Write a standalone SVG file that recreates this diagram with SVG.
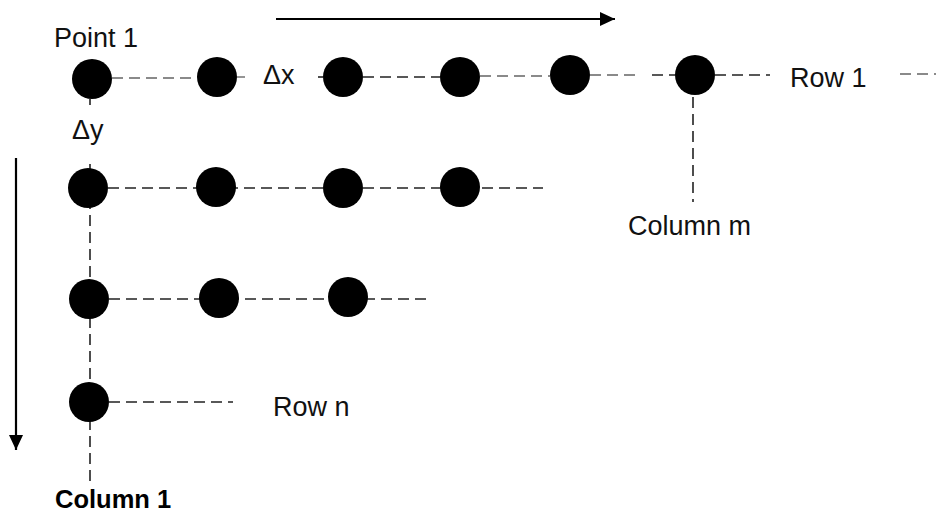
<svg xmlns="http://www.w3.org/2000/svg" width="936" height="512" viewBox="0 0 936 512">
<style>
  .dash { stroke: #222; stroke-width: 1.6; stroke-dasharray: 11 6; fill: none; }
  .gray { stroke: #8a8a8a; stroke-width: 1.8; stroke-dasharray: 11 6; fill: none; }
  .dot { fill: #000; }
  .lbl { font-family: "Liberation Sans", Arial, sans-serif; font-size: 27px; fill: #111; }
  .bold { font-family: "Liberation Sans", Arial, sans-serif; font-size: 25.5px; font-weight: bold; fill: #000; }
  .arrow { stroke: #000; stroke-width: 2.2; fill: none; }
</style>
<defs>
  <marker id="ah" markerWidth="8" markerHeight="8" refX="7" refY="4" orient="auto" markerUnits="userSpaceOnUse" viewBox="0 0 8 8">
    <path d="M0,0 L8,4 L0,8 Z" fill="#000"/>
  </marker>
  <marker id="ahBig" markerWidth="15" markerHeight="14" refX="15" refY="7" orient="auto" markerUnits="userSpaceOnUse">
    <path d="M0,0 L15,7 L0,14 Z" fill="#000"/>
  </marker>
</defs>

<g id="connectors">
  <!-- direction arrows -->
  <line class="arrow" x1="276" y1="19" x2="615" y2="19" marker-end="url(#ahBig)"/>
  <line class="arrow" x1="16" y1="158" x2="16" y2="450" marker-end="url(#ahBig)"/>

  <!-- Row 1 -->
  <line class="gray" x1="112" y1="78" x2="197" y2="78"/>
  <line class="gray" x1="237" y1="77" x2="245" y2="77"/>
  <line class="dash" x1="318" y1="77" x2="323" y2="77"/>
  <line class="dash" x1="363" y1="77" x2="440" y2="77"/>
  <line class="gray" x1="480" y1="76" x2="550" y2="76"/>
  <line class="gray" x1="590" y1="75" x2="640" y2="75"/>
  <line class="dash" x1="652" y1="75" x2="675" y2="75"/>
  <line class="dash" x1="715" y1="75" x2="770" y2="75"/>
  <line class="gray" x1="900" y1="74" x2="936" y2="74"/>

  <!-- Row 2 -->
  <line class="dash" x1="108" y1="188" x2="543" y2="188"/>
  <!-- Row 3 -->
  <line class="dash" x1="109" y1="299" x2="426" y2="299"/>
  <!-- Row 4 (Row n) -->
  <line class="dash" x1="109" y1="402" x2="233" y2="402"/>

  <!-- Column 1 -->
  <line class="dash" x1="90" y1="99" x2="90" y2="105"/>
  <line class="dash" x1="90" y1="164" x2="90" y2="484"/>
  <!-- Column m -->
  <line class="dash" x1="693" y1="97" x2="693" y2="202"/>
</g>

<g id="row1">
  <circle class="dot" cx="92" cy="79" r="20"/>
  <circle class="dot" cx="217" cy="77" r="20"/>
  <circle class="dot" cx="343" cy="77" r="20"/>
  <circle class="dot" cx="460" cy="77" r="20"/>
  <circle class="dot" cx="570" cy="75" r="20"/>
  <circle class="dot" cx="695" cy="75" r="20"/>
</g>
<g id="row2">
  <circle class="dot" cx="88" cy="188" r="20"/>
  <circle class="dot" cx="216" cy="187" r="20"/>
  <circle class="dot" cx="343" cy="188" r="20"/>
  <circle class="dot" cx="460" cy="187" r="20"/>
</g>
<g id="row3">
  <circle class="dot" cx="89" cy="299" r="20"/>
  <circle class="dot" cx="219" cy="298" r="20"/>
  <circle class="dot" cx="348" cy="297" r="20"/>
</g>
<g id="row4">
  <circle class="dot" cx="89" cy="402" r="20"/>
</g>

<g id="labels">
  <text class="lbl" x="54" y="47">Point 1</text>
  <text class="lbl" x="263" y="84">Δx</text>
  <text class="lbl" x="72" y="139">Δy</text>
  <text class="lbl" x="790" y="87">Row 1</text>
  <text class="lbl" x="628" y="235">Column m</text>
  <text class="lbl" x="273" y="416">Row n</text>
  <text class="bold" x="55" y="508">Column 1</text>
</g>
</svg>
